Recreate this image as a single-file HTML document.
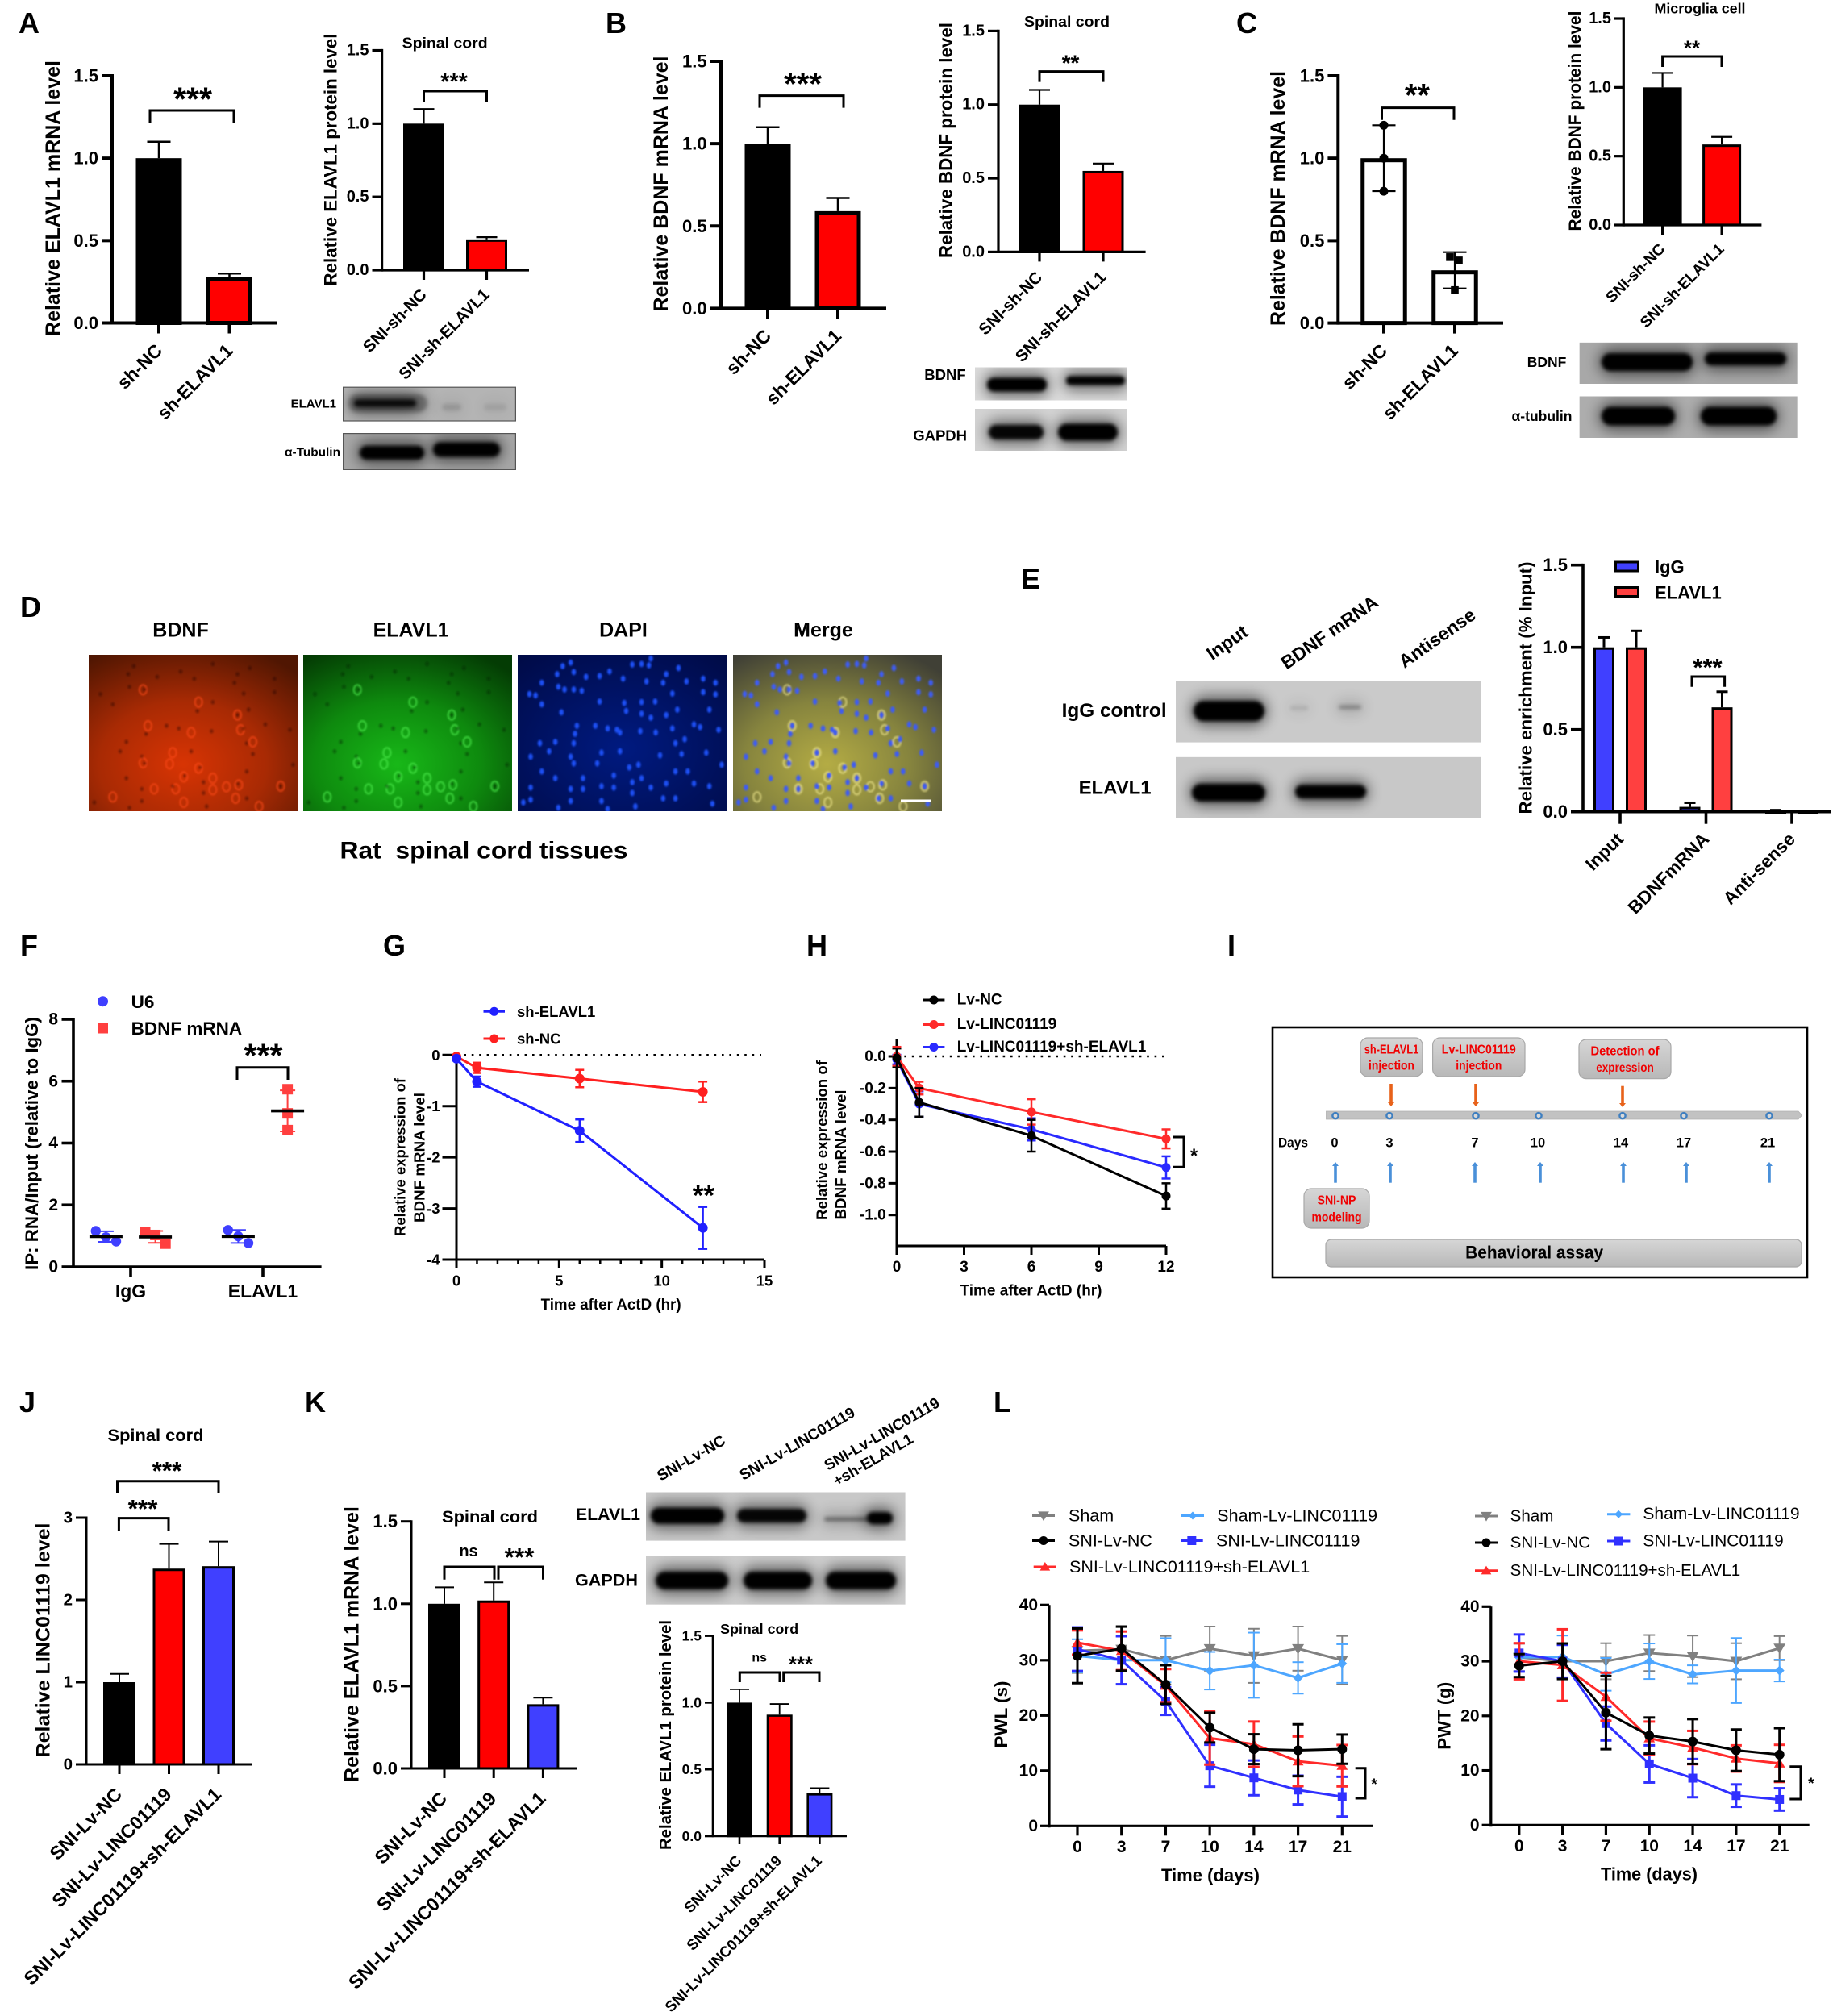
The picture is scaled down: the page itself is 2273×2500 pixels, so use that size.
<!DOCTYPE html>
<html lang="en">
<head>
<meta charset="utf-8">
<title>ELAVL1 / BDNF / LINC01119 multi-panel figure</title>
<style>
  html,body{margin:0;padding:0;background:#fff;}
  #figure{display:block;font-family:"Liberation Sans",Arial,sans-serif;}
</style>
</head>
<body>
<svg id="figure" xmlns="http://www.w3.org/2000/svg" width="2273" height="2500" viewBox="0 0 2273 2500">
  <defs>
    <filter id="blur1" x="-20%" y="-20%" width="140%" height="140%"><feGaussianBlur stdDeviation="1"/></filter>
    <filter id="blur3" x="-50%" y="-150%" width="200%" height="400%"><feGaussianBlur stdDeviation="2.5"/></filter>
    <filter id="blur8" x="-50%" y="-200%" width="200%" height="500%"><feGaussianBlur stdDeviation="8"/></filter>
    <radialGradient id="if-red" cx="0.45" cy="0.7" r="0.8"><stop offset="0" stop-color="#d83404"/><stop offset="0.5" stop-color="#a82a04"/><stop offset="1" stop-color="#501602"/></radialGradient>
    <radialGradient id="if-green" cx="0.45" cy="0.7" r="0.8"><stop offset="0" stop-color="#18b818"/><stop offset="0.5" stop-color="#0e8a0e"/><stop offset="1" stop-color="#043c04"/></radialGradient>
    <radialGradient id="if-blue" cx="0.5" cy="0.6" r="0.8"><stop offset="0" stop-color="#001a80"/><stop offset="1" stop-color="#000a44"/></radialGradient>
    <radialGradient id="if-merge" cx="0.45" cy="0.7" r="0.8"><stop offset="0" stop-color="#b4ac44"/><stop offset="0.5" stop-color="#86843e"/><stop offset="1" stop-color="#404036"/></radialGradient>
    <linearGradient id="pill-fill" x1="0" y1="0" x2="0" y2="1"><stop offset="0" stop-color="#d6d6d6"/><stop offset="1" stop-color="#b8b8b8"/></linearGradient>
  </defs>
</svg>
<script>
/* ---------- chart data ---------- */
const ticksOneFive = ['0.0','0.5','1.0','1.5'];

const aMrnaCategories = ['sh-NC','sh-ELAVL1'];
const aMrnaValues = [1, 0.28];
const aMrnaErrors = [0.1, 0.02];
const aProteinCategories = ['SNI-sh-NC','SNI-sh-ELAVL1'];
const aProteinValues = [1, 0.21];
const aProteinErrors = [0.1, 0.015];

const bMrnaCategories = ['sh-NC','sh-ELAVL1'];
const bMrnaValues = [1, 0.59];
const bMrnaErrors = [0.1, 0.08];
const bProteinCategories = ['SNI-sh-NC','SNI-sh-ELAVL1'];
const bProteinValues = [1, 0.55];
const bProteinErrors = [0.1, 0.05];

const cMrnaCategories = ['sh-NC','sh-ELAVL1'];
const cMrnaValues = [1, 0.32];
const cMrnaErrors = [0.2, 0.11];
const cMrnaPointsNc = [1.2, 1.0, 0.8];
const cMrnaPointsSh = [0.4, 0.38, 0.2];
const cProteinCategories = ['SNI-sh-NC','SNI-sh-ELAVL1'];
const cProteinValues = [1, 0.585];
const cProteinErrors = [0.105, 0.055];

const eCategories = ['Input','BDNFmRNA','Anti-sense'];
const eIgg = [1, 0.03, 0.005];
const eIggErrors = [0.06, 0.025, 0.005];
const eElavl1 = [1, 0.635, 0.003];
const eElavl1Errors = [0.1, 0.095, 0.002];

const fCategories = ['IgG','ELAVL1'];
const fTicks = ['0','2','4','6','8'];
const fU6Replicates = [[1.16,0.96,0.82],[1.19,0.99,0.77]];
const fBdnfReplicates = [[1.12,1.03,0.75],[5.74,4.96,4.42]];

const gHours = [0, 1, 6, 12];
const gYTicks = ['0','-1','-2','-3','-4'];
const gXTicks = ['0','5','10','15'];
const gShElavl1 = [-0.07, -0.52, -1.48, -3.38];
const gShElavl1Err = [0.02, 0.1, 0.22, 0.41];
const gShNc = [-0.03, -0.25, -0.46, -0.72];
const gShNcErr = [0.02, 0.1, 0.17, 0.2];

const hHours = [0, 1, 6, 12];
const hYTicks = ['0.0','-0.2','-0.4','-0.6','-0.8','-1.0'];
const hXTicks = ['0','3','6','9','12'];
const hLvNc = [-0.01, -0.29, -0.5, -0.88];
const hLvNcErr = [0.06, 0.09, 0.1, 0.08];
const hLinc = [0, -0.2, -0.35, -0.52];
const hLincErr = [0.06, 0.04, 0.08, 0.06];
const hLincSh = [-0.02, -0.3, -0.46, -0.7];
const hLincShErr = [0.03, 0.08, 0.07, 0.07];

const jCategories = ['SNI-Lv-NC','SNI-Lv-LINC01119','SNI-Lv-LINC01119+sh-ELAVL1'];
const jTicks = ['0','1','2','3'];
const jValues = [1, 2.38, 2.41];
const jErrors = [0.1, 0.3, 0.3];

const kMrnaCategories = ['SNI-Lv-NC','SNI-Lv-LINC01119','SNI-Lv-LINC01119+sh-ELAVL1'];
const kMrnaValues = [1, 1.02, 0.39];
const kMrnaErrors = [0.1, 0.11, 0.04];
const kProteinCategories = ['SNI-Lv-NC','SNI-Lv-LINC01119','SNI-Lv-LINC01119+sh-ELAVL1'];
const kProteinValues = [1, 0.91, 0.32];
const kProteinErrors = [0.1, 0.08, 0.04];

const lDays = ['0','3','7','10','14','17','21'];
const lYTicks = ['0','10','20','30','40'];

const pwlSham = [31.7, 32, 30, 32.1, 30.8, 32.1, 30];
const pwlShamErr = [4, 4, 4.4, 4, 4.9, 4, 4.4];
const pwlShamLinc = [30.8, 30, 30, 28.1, 29.1, 26.8, 29.4];
const pwlShamLincErr = [3, 4.3, 4, 3.4, 5.9, 2.85, 3.5];
const pwlNc = [30.8, 32.1, 25.6, 17.8, 13.9, 13.7, 13.9];
const pwlNcErr = [4.95, 4, 3.5, 2.7, 2.7, 4.7, 2.65];
const pwlLincSh = [33.2, 31.7, 25.4, 15.9, 14.8, 11.7, 10.9];
const pwlLincShErr = [2.2, 3.5, 3, 4.8, 4.1, 4.5, 3.75];
const pwlLinc = [32, 30, 22.6, 10.9, 8.7, 6.5, 5.3];
const pwlLincErr = [3.95, 4.35, 2.5, 3.8, 3.15, 2.6, 3.6];

const pwtSham = [30.7, 30, 30, 31.5, 30.9, 30, 32.4];
const pwtShamErr = [2.5, 3, 3.3, 3.3, 3.8, 3.3, 2.2];
const pwtShamLinc = [30.7, 30.8, 27.6, 30, 27.6, 28.3, 28.3];
const pwtShamLincErr = [2.6, 3.9, 3, 3.25, 1.65, 5.95, 2];
const pwtNc = [29.2, 30, 20.6, 16.4, 15.3, 13.7, 12.9];
const pwtNcErr = [2.1, 3.25, 6.7, 3.3, 4.1, 3.8, 4.85];
const pwtLincSh = [30, 29.3, 23.5, 15.9, 14.2, 12.2, 11.3];
const pwtLincShErr = [3.3, 6.55, 4.4, 3.05, 3.05, 2.4, 3.4];
const pwtLinc = [31.5, 30, 18.6, 11.2, 8.6, 5.4, 4.7];
const pwtLincErr = [3.4, 3, 3.1, 3.4, 3.5, 2.05, 2.05];

/* ---------- micrograph texture (not chart data) ---------- */
const micrographNuclei = [[912,378],[925,365],[903,408],[930,400],[950,418],[972,415],[988,398],[1025,372],[1040,370],[1052,375],[1100,385],[1055,350],[1080,408],[878,440],[905,455],[915,465],[930,465],[943,470],[858,482],[868,487],[878,520],[972,510],[1010,425],[1048,435],[1075,440],[1113,435],[1140,425],[1160,440],[1140,475],[1160,483],[1090,480],[1012,515],[1040,512],[1062,510],[1015,545],[1040,555],[1098,540],[1150,540],[1080,560],[1055,570],[1125,595],[1135,605],[1090,610],[1063,625],[1038,620],[1000,615],[965,600],[935,600],[932,630],[910,550],[985,610],[1005,625],[1165,615],[1110,650],[1095,665],[875,665],[900,660],[930,665],[890,695],[860,715],[925,715],[975,700],[1005,695],[1070,710],[1105,705],[1145,700],[930,740],[968,740],[1020,755],[1035,745],[1095,770],[1115,770],[1170,745],[878,770],[900,795],[945,795],[995,785],[1040,795],[1025,810],[1055,830],[1080,815],[1125,815],[1150,825],[860,830],[925,835],[945,835],[975,825],[995,830],[1025,850],[1075,870],[1095,870],[860,875],[925,880],[975,880],[1030,900],[1155,890],[905,905],[985,910],[848,885]];
const micrographRings = [[88,130],[178,176],[241,224],[246,279],[266,324],[96,264],[136,364],[88,402],[131,406],[178,422],[201,459],[154,454],[106,499],[141,499],[201,502],[223,491],[243,484],[39,529],[154,549],[238,534],[276,564],[311,489],[166,289]];

/* ---------- helpers ---------- */
const NS = 'http://www.w3.org/2000/svg';
const root = document.getElementById('figure');
let cur = root;

function tag(el, name) {
  
  
  return el;
}
function make(kind, attrs) {
  const el = document.createElementNS(NS, kind);
  for (const k in attrs) el.setAttribute(k, attrs[k]);
  cur.appendChild(el);
  return el;
}
function group(name) {
  const el = document.createElementNS(NS, 'g');
  root.appendChild(el);
  cur = el;
  return tag(el, name);
}
function scale(d0, d1, r0, r1) {
  return function (v) { return r0 + (v - d0) / (d1 - d0) * (r1 - r0); };
}
function label(name, str, x, y, size, o) {
  o = o || {};
  const el = make('text', {x: x, y: y, 'font-size': size, 'font-weight': o.weight || 'bold', 'text-anchor': o.anchor || 'middle', 'dominant-baseline': o.base || 'central', fill: o.fill || '#000'});
  if (o.rotate) el.setAttribute('transform', 'rotate(' + o.rotate + ' ' + x + ' ' + y + ')');
  if (o.len) { el.setAttribute('textLength', o.len); el.setAttribute('lengthAdjust', 'spacingAndGlyphs'); }
  el.textContent = str;
  return tag(el, name);
}
function letter(str, x, y) {
  return label('panel-letter-' + str.toLowerCase(), str, x, y, 36, {anchor: 'start', base: 'auto'});
}
function seg(name, x1, y1, x2, y2, w, color, dash) {
  const el = make('line', {x1: x1, y1: y1, x2: x2, y2: y2, stroke: color || '#000', 'stroke-width': w});
  if (dash) el.setAttribute('stroke-dasharray', dash);
  return tag(el, name);
}
function box(name, x, y, w, h, fill, stroke, sw, rx) {
  const el = make('rect', {x: x, y: y, width: w, height: h, fill: fill});
  if (stroke) { el.setAttribute('stroke', stroke); el.setAttribute('stroke-width', sw); }
  if (rx) el.setAttribute('rx', rx);
  return tag(el, name);
}
function bracket(name, x1, x2, top, bot) {
  const el = make('path', {d: 'M' + x1 + ' ' + bot + 'V' + top + 'H' + x2 + 'V' + bot, fill: 'none', stroke: '#000', 'stroke-width': 3});
  return tag(el, name);
}
function sideBracket(name, x1, x2, y1, y2) {
  const el = make('path', {d: 'M' + x1 + ' ' + y1 + 'H' + x2 + 'V' + y2 + 'H' + x1, fill: 'none', stroke: '#000', 'stroke-width': 3});
  return tag(el, name);
}
function stars(name, str, x, y, size) {
  return label(name, str, x, y + size * 0.14, size);
}
function marker(name, kind, x, y, r, color) {
  let el;
  if (kind === 'circle') el = make('circle', {cx: x, cy: y, r: r, fill: color});
  else if (kind === 'square') el = make('rect', {x: x - r, y: y - r, width: 2 * r, height: 2 * r, fill: color});
  else {
    let p;
    if (kind === 'triUp') p = [[x, y - r * 1.1], [x + r * 1.15, y + r * 0.85], [x - r * 1.15, y + r * 0.85]];
    else if (kind === 'triDown') p = [[x, y + r * 1.1], [x + r * 1.15, y - r * 0.85], [x - r * 1.15, y - r * 0.85]];
    else p = [[x, y - r], [x + r, y], [x, y + r], [x - r, y]];
    el = make('polygon', {points: p.map(function (q) { return q.join(','); }).join(' '), fill: color});
  }
  return tag(el, name);
}
function legendEntry(name, str, x1, x2, y, textX, color, kind, r, size, weight) {
  seg(name + '-swatch-line', x1, y, x2, y, 3, color);
  marker(name + '-swatch-marker', kind, (x1 + x2) / 2, y, r, color);
  label(name + '-label', str, textX, y, size, {anchor: 'start', weight: weight || 'bold'});
}
function ylabel(name, t) {
  label(name, t.text, t.x, t.y, t.size, {rotate: -90, len: t.len});
}

/* ---------- bar chart ---------- */
function barChart(c) {
  group(c.name);
  const y = scale(0, c.max, c.base, c.top);
  const x = function (i) { return c.first + i * c.step; };
  seg('y-axis', c.axisX, c.base + c.axisW / 2, c.axisX, c.top - c.axisW / 2, c.axisW);
  c.ticks.forEach(function (t) {
    seg('y-tick-' + t, c.tickLeft, y(Number(t)), c.axisX, y(Number(t)), c.axisW);
    label('y-tick-label-' + t, t, c.tickLeft - 4, y(Number(t)), c.tickFont, {anchor: 'end'});
  });
  const offsets = c.offsets || [0];
  c.series.forEach(function (s, si) {
    s.values.forEach(function (v, i) {
      const cx = x(i) + offsets[si];
      const e = s.errors[i];
      const ev = c.errColor || '#000';
      if (!c.twoSided) {
        seg('error-stem-' + s.name + '-' + i, cx, y(v), cx, y(v + e), c.errW, ev);
        seg('error-cap-' + s.name + '-' + i, cx - c.cap, y(v + e), cx + c.cap, y(v + e), c.errW, ev);
      }
      const fill = s.fills[i % s.fills.length];
      const top = y(v);
      const h = Math.max(c.base - top - c.border / 2, 0.5);
      const bar = box('bar-' + s.name + '-' + i, cx - c.barW / 2 + c.border / 2, top + c.border / 2, c.barW - c.border, h, fill, '#000', c.border);
      bar.setAttribute('data-value', v);
    });
  });
  seg('x-axis', c.axisX, c.base, c.xEnd, c.base, c.axisW);
  c.categories.forEach(function (cat, i) {
    seg('x-tick-' + i, x(i), c.base, x(i), c.base + c.tickLen, c.axisW);
    label('x-tick-label-' + i, cat, x(i) + (c.catDx || 0), c.base + c.catDy, c.catFont, {anchor: 'end', rotate: -45});
  });
  if (c.yTitle) ylabel('y-axis-title', c.yTitle);
  return {x: x, y: y};
}
const bigBars = {axisW: 4, border: 5, errW: 2.5, cap: 14.5, tickLen: 13, catFont: 23, catDy: 30, tickFont: 22};
const smallBars = {axisW: 3.2, border: 3, errW: 2.2, cap: 13, tickLen: 12, catFont: 20.5, catDy: 27, tickFont: 20};
const blackRed = ['#000', '#f00'];
const blackRedBlue = ['#000', '#f00', '#4040ff'];

/* ---------- line chart ---------- */
function lineChart(c) {
  group(c.name);
  const x = c.x, y = c.y;
  const nudge = c.labelNudge || 0;
  seg('y-axis', c.axisX, c.axisBase + 2, c.axisX, c.axisTop, c.axisW);
  seg('x-axis', c.axisX, c.axisBase, c.axisEnd, c.axisBase, c.axisW);
  c.yTicks.forEach(function (t) {
    seg('y-tick-' + t, c.tickLeft, y(Number(t)), c.axisX, y(Number(t)), c.axisW);
    label('y-tick-label-' + t, t, c.tickLeft - 3, y(Number(t)) + nudge, c.tickFont, {anchor: 'end'});
  });
  (c.minor || []).forEach(function (m) {
    seg('x-minor-tick-' + m, x(m), c.axisBase, x(m), c.axisBase + 6, 2.5);
  });
  c.xTickValues.forEach(function (v, i) {
    seg('x-tick-' + i, x(v), c.axisBase, x(v), c.axisBase + c.tickLen, c.axisW);
    label('x-tick-label-' + i, c.xTicks[i], x(v), c.axisBase + c.xLabelDy + nudge, c.tickFont);
  });
  if (c.zeroTo) seg('zero-reference-line', c.axisX, y(0), c.zeroTo, y(0), 2.6, '#000', '2.6 6.8');
  c.series.forEach(function (s) {
    s.errs.forEach(function (e, i) {
      const px = x(c.points[i]);
      seg(s.name + '-error-stem-' + i, px, y(s.vals[i] + e), px, y(s.vals[i] - e), s.errW, s.color);
      seg(s.name + '-error-cap-high-' + i, px - c.cap, y(s.vals[i] + e), px + c.cap, y(s.vals[i] + e), s.errW, s.color);
      seg(s.name + '-error-cap-low-' + i, px - c.cap, y(s.vals[i] - e), px + c.cap, y(s.vals[i] - e), s.errW, s.color);
    });
    const poly = make('polyline', {points: s.vals.map(function (v, i) { return x(c.points[i]) + ',' + y(v); }).join(' '), fill: 'none', stroke: s.color, 'stroke-width': s.lineW});
    tag(poly, s.name + '-line');
    s.vals.forEach(function (v, i) {
      marker(s.name + '-point-' + i, s.kind, x(c.points[i]), y(v), s.r, s.color);
    });
  });
}

/* ---------- western blot ---------- */
function blot(name, x, y, w, h, bg, bands, edge) {
  const el = make('svg', {x: x, y: y, width: w, height: h, viewBox: x + ' ' + y + ' ' + w + ' ' + h});
  tag(el, name);
  const saved = cur;
  cur = el;
  box(name + '-background', x, y, w, h, bg);
  bands.forEach(function (b, i) {
    const op = b[4] === undefined ? 1 : b[4];
    const thick = op > 0.5 ? b[3] + 5 : b[3];
    const halo = box(name + '-band-halo-' + i, b[0] - 4, b[1] - thick / 2 - 7, b[2] - b[0] + 8, thick + 14, '#000', null, 0, (thick + 14) / 2);
    halo.setAttribute('opacity', op * 0.5);
    halo.setAttribute('filter', 'url(#blur8)');
    const band = box(name + '-band-' + i, b[0], b[1] - thick / 2, b[2] - b[0], thick, '#000', null, 0, thick / 2);
    band.setAttribute('opacity', op);
    band.setAttribute('filter', 'url(#blur3)');
  });
  if (edge) {
    box(name + '-frame', x + 0.5, y + 0.5, w - 1, h - 1, 'none', '#555', 1.4);
  }
  cur = saved;
}

/* ---------- micrograph panel ---------- */
function micrograph(name, x, y, w, h, grad, nucleusColor, nucleusOpacity, ringColor) {
  const el = make('svg', {x: x, y: y, width: w, height: h, viewBox: x + ' ' + y + ' ' + w + ' ' + h});
  tag(el, name);
  const saved = cur;
  cur = el;
  box(name + '-background', x, y, w, h, 'url(#' + grad + ')');
  const dots = make('g', {filter: 'url(#blur1)'});
  tag(dots, name + '-cells');
  cur = dots;
  if (ringColor) {
    micrographRings.forEach(function (r, i) {
      const ring = make('ellipse', {cx: x + r[0] / 339 * w, cy: y + r[1] / 582 * h, rx: 4.5, ry: 6, fill: 'none', stroke: ringColor, 'stroke-width': 1.7, opacity: 0.8});
      tag(ring, name + '-ring-cell-' + i);
    });
  }
  micrographNuclei.forEach(function (n, i) {
    if (nucleusOpacity < 0.6 && i % 2) return;
    const dot = make('ellipse', {cx: x + (n[0] - 839) / 339 * w, cy: y + (n[1] - 336) / 582 * h, rx: nucleusOpacity < 0.6 ? 2.2 : 2.8, ry: nucleusOpacity < 0.6 ? 2.6 : 3.9, fill: nucleusColor, opacity: nucleusOpacity});
    tag(dot, name + '-nucleus-' + i);
  });
  cur = saved;
}

/* ================= PANEL LETTERS ================= */
group('panel-letters');
letter('A', 23, 41); letter('B', 751, 41); letter('C', 1533, 41);
letter('D', 25, 765); letter('E', 1266, 730);
letter('F', 25, 1185); letter('G', 475, 1185); letter('H', 1000, 1185); letter('I', 1522, 1185);
letter('J', 24, 1751); letter('K', 378, 1751); letter('L', 1232, 1751);

/* ================= PANEL A ================= */
barChart(Object.assign({}, bigBars, {name: 'a-mrna-chart', axisX: 139, base: 400.5, top: 94, max: 1.5, ticks: ticksOneFive, tickLeft: 126, xEnd: 344, first: 197, step: 87.5, barW: 57, categories: aMrnaCategories,
  series: [{name: 'elavl1-mrna', values: aMrnaValues, errors: aMrnaErrors, fills: blackRed}],
  yTitle: {text: 'Relative ELAVL1 mRNA level', x: 66, y: 246, size: 25, len: 342}}));
bracket('significance-bracket', 186, 290, 137, 152);
stars('significance-stars', '***', 239, 117, 41);

barChart(Object.assign({}, smallBars, {name: 'a-protein-chart', axisX: 473.6, base: 335, top: 62.5, max: 1.5, ticks: ticksOneFive, tickLeft: 461.5, xEnd: 656, first: 525.5, step: 78, barW: 51, categories: aProteinCategories,
  series: [{name: 'elavl1-protein', values: aProteinValues, errors: aProteinErrors, fills: blackRed}],
  yTitle: {text: 'Relative ELAVL1 protein level', x: 410, y: 198, size: 22.2, len: 313}}));
label('chart-title', 'Spinal cord', 551.6, 53, 18.5, {len: 106});
bracket('significance-bracket', 525.5, 603.5, 113, 126);
stars('significance-stars', '***', 563, 98, 29);

group('a-western-blot');
blot('a-elavl1-blot', 425, 479.6, 215, 43, '#b4b4b4', [[432, 500, 530, 22, 0.28], [439, 500, 516, 4, 0.85], [548, 505, 572, 8, 0.12], [600, 505, 628, 8, 0.08]], true);
blot('a-tubulin-blot', 425, 537, 215, 46, '#a6a6a6', [[446, 561.5, 526, 12], [537, 557.5, 620, 13]], true);
label('a-elavl1-blot-label', 'ELAVL1', 417, 501, 15, {anchor: 'end'});
label('a-tubulin-blot-label', 'α-Tubulin', 422, 561, 15, {anchor: 'end', len: 69});

/* ================= PANEL B ================= */
barChart(Object.assign({}, bigBars, {name: 'b-mrna-chart', axisX: 894, base: 382.4, top: 76, max: 1.5, ticks: ticksOneFive, tickLeft: 880.6, xEnd: 1099, first: 952, step: 87, barW: 57, categories: bMrnaCategories,
  series: [{name: 'bdnf-mrna', values: bMrnaValues, errors: bMrnaErrors, fills: blackRed}],
  yTitle: {text: 'Relative BDNF mRNA level', x: 820, y: 228, size: 25, len: 317}}));
bracket('significance-bracket', 942, 1046, 118.6, 133.6);
stars('significance-stars', '***', 995.5, 99, 40);

barChart(Object.assign({}, smallBars, {name: 'b-protein-chart', axisX: 1238, base: 312.4, top: 38.4, max: 1.5, ticks: ticksOneFive, tickLeft: 1225, xEnd: 1420.6, first: 1289, step: 79, barW: 51, categories: bProteinCategories, catDy: 28,
  series: [{name: 'bdnf-protein', values: bProteinValues, errors: bProteinErrors, fills: blackRed}],
  yTitle: {text: 'Relative BDNF protein level', x: 1173, y: 174, size: 22.4, len: 292}}));
label('chart-title', 'Spinal cord', 1323, 26.5, 18.5, {len: 106});
bracket('significance-bracket', 1289, 1368, 88.6, 101.6);
stars('significance-stars', '**', 1327.5, 74, 28);

group('b-western-blot');
blot('b-bdnf-blot', 1209, 455.5, 188, 41, '#dadada', [[1224, 477, 1298, 12], [1322, 472, 1395, 6]]);
blot('b-gapdh-blot', 1209, 507, 188, 52, '#d2d2d2', [[1226, 536, 1294, 13, 0.95], [1312, 536, 1386, 16]]);
label('b-bdnf-blot-label', 'BDNF', 1172, 464.6, 18.5);
label('b-gapdh-blot-label', 'GAPDH', 1165.6, 540, 18.5);

/* ================= PANEL C ================= */
const cMrnaAxes = barChart(Object.assign({}, bigBars, {name: 'c-mrna-chart', axisX: 1659.3, base: 400.6, top: 94, max: 1.5, ticks: ticksOneFive, tickLeft: 1646.4, xEnd: 1864, first: 1716, step: 88, barW: 57.5, categories: cMrnaCategories, twoSided: true,
  series: [{name: 'bdnf-mrna', values: cMrnaValues, errors: cMrnaErrors, fills: ['#fff', '#fff']}],
  yTitle: {text: 'Relative BDNF mRNA level', x: 1584.8, y: 246, size: 25, len: 316}}));
cMrnaValues.forEach(function (v, i) {
  const cx = cMrnaAxes.x(i), e = cMrnaErrors[i];
  seg('sd-stem-' + i, cx, cMrnaAxes.y(v + e), cx, cMrnaAxes.y(v - e), 2.2);
  seg('sd-cap-high-' + i, cx - 14.5, cMrnaAxes.y(v + e), cx + 14.5, cMrnaAxes.y(v + e), 2.2);
  seg('sd-cap-low-' + i, cx - 14.5, cMrnaAxes.y(v - e), cx + 14.5, cMrnaAxes.y(v - e), 2.2);
});
cMrnaPointsNc.forEach(function (v, i) {
  marker('replicate-point-nc-' + i, 'circle', cMrnaAxes.x(0), cMrnaAxes.y(v), 5.5, '#000');
});
cMrnaPointsSh.forEach(function (v, i) {
  marker('replicate-point-sh-' + i, 'square', cMrnaAxes.x(1) + [-6, 5, 0][i], cMrnaAxes.y(v), 4.8, '#000');
});
bracket('significance-bracket', 1713.5, 1803, 133.6, 148.7);
stars('significance-stars', '**', 1757.4, 112.7, 40);

barChart(Object.assign({}, smallBars, {name: 'c-protein-chart', axisX: 2013.3, base: 279, top: 23, max: 1.5, ticks: ticksOneFive, tickLeft: 2002, xEnd: 2184.4, first: 2061.6, step: 73.5, barW: 48, categories: cProteinCategories, catFont: 19, catDy: 27,
  series: [{name: 'bdnf-protein', values: cProteinValues, errors: cProteinErrors, fills: blackRed}],
  yTitle: {text: 'Relative BDNF protein level', x: 1953.6, y: 150, size: 21, len: 273}}));
label('chart-title', 'Microglia cell', 2108, 10.7, 17.5, {len: 113});
bracket('significance-bracket', 2061.6, 2135, 70, 83);
stars('significance-stars', '**', 2098, 56, 26);

group('c-western-blot');
blot('c-bdnf-blot', 1958.6, 424.7, 270.2, 51.3, '#a8a8a8', [[1986, 449, 2099, 17], [2114, 445, 2215, 11]]);
blot('c-tubulin-blot', 1958.6, 491.5, 270.2, 51.5, '#adadad', [[1986, 516, 2077, 18], [2109, 516, 2203, 18]]);
label('c-bdnf-blot-label', 'BDNF', 1918, 449, 17.5);
label('c-tubulin-blot-label', 'α-tubulin', 1912, 516, 17.5, {len: 75});

/* ================= PANEL D ================= */
group('d-immunofluorescence');
micrograph('d-bdnf-image', 110, 812, 259.5, 194, 'if-red', '#1a0600', 0.4, '#ff4a1c');
micrograph('d-elavl1-image', 376, 812, 259, 194, 'if-green', '#001800', 0.4, '#50f050');
micrograph('d-dapi-image', 642, 812, 259, 194, 'if-blue', '#1c50f4', 1, null);
micrograph('d-merge-image', 909, 812, 259, 194, 'if-merge', '#3c5cf4', 1, '#f4ec90');
seg('d-scale-bar', 1117, 993, 1154, 993, 3, '#fff');
label('d-bdnf-title', 'BDNF', 224, 781.7, 25);
label('d-elavl1-title', 'ELAVL1', 509.6, 781.7, 25);
label('d-dapi-title', 'DAPI', 773, 781.7, 25);
label('d-merge-title', 'Merge', 1021, 781.7, 25);
label('d-caption', 'Rat\u00a0 spinal cord tissues', 600, 1055, 30, {len: 357});

/* ================= PANEL E ================= */
group('e-rip-blot');
blot('e-igg-blot', 1458, 844.7, 378, 76, '#cacaca', [[1480, 881.7, 1568, 20], [1600, 878, 1622, 4, 0.12], [1660, 877, 1688, 5, 0.28]]);
blot('e-elavl1-blot', 1458, 938.7, 378, 75.3, '#c8c8c8', [[1478, 983, 1569, 17], [1606, 981.7, 1694, 12]]);
label('e-igg-row-label', 'IgG control', 1381.6, 881.7, 24.4, {len: 130});
label('e-elavl1-row-label', 'ELAVL1', 1382.6, 976.7, 23.5, {len: 90});
label('e-input-lane-label', 'Input', 1521.6, 796.7, 23, {rotate: -35});
label('e-bdnf-lane-label', 'BDNF mRNA', 1648.5, 784, 23, {rotate: -35});
label('e-antisense-lane-label', 'Antisense', 1782, 791, 23, {rotate: -35});

barChart({name: 'e-enrichment-chart', axisX: 1963, base: 1006.7, top: 700.7, max: 1.5, ticks: ticksOneFive, tickLeft: 1948, tickFont: 22, xEnd: 2271, first: 2009, step: 106.5, barW: 26, offsets: [-20, 20], categories: eCategories,
  axisW: 3.6, border: 3, errW: 3, cap: 7, tickLen: 15, catFont: 22.5, catDy: 30, catDx: 0,
  series: [{name: 'igg', values: eIgg, errors: eIggErrors, fills: ['#4040ff']}, {name: 'elavl1', values: eElavl1, errors: eElavl1Errors, fills: ['#ff4040']}],
  yTitle: {text: 'Relative enrichment (% Input)', x: 1892, y: 853, size: 22, len: 313}});
bracket('significance-bracket', 2098, 2138.6, 839, 851.7);
stars('significance-stars', '***', 2117.5, 823, 31);
box('legend-igg-swatch', 2003.5, 697, 28, 11, '#4040ff', '#000', 3);
label('legend-igg-label', 'IgG', 2052, 703, 22, {anchor: 'start'});
box('legend-elavl1-swatch', 2003.5, 728.5, 28, 11, '#ff4040', '#000', 3);
label('legend-elavl1-label', 'ELAVL1', 2052, 735, 22, {anchor: 'start'});

/* ================= PANEL F ================= */
(function () {
  group('f-rip-scatter-chart');
  const y = scale(0, 8, 1571, 1264);
  const x = scale(0, 1, 162, 326);
  seg('y-axis', 91, 1573, 91, 1262, 3.6);
  fTicks.forEach(function (t) {
    seg('y-tick-' + t, 76.5, y(Number(t)), 91, y(Number(t)), 3.6);
    label('y-tick-label-' + t, t, 72, y(Number(t)), 21, {anchor: 'end'});
  });
  seg('x-axis', 91, 1571, 398.6, 1571, 3.6);
  fCategories.forEach(function (cat, i) {
    seg('x-tick-' + i, x(i), 1571, x(i), 1584, 3.6);
    label('x-tick-label-' + i, cat, x(i), 1601, 23);
  });
  function plot(series, reps, offset, kind, color) {
    reps.forEach(function (r, i) {
      const cx = x(i) + offset;
      const mean = r.reduce(function (a, b) { return a + b; }, 0) / r.length;
      const sd = Math.sqrt(r.reduce(function (a, b) { return a + (b - mean) * (b - mean); }, 0) / (r.length - 1));
      const spread = mean > 3 ? [0, 0, 0] : [-12.6, 0, 12.6];
      r.forEach(function (v, j) {
        marker(series + '-replicate-' + i + '-' + j, kind, cx + spread[j], y(v), kind === 'circle' ? 6.2 : 6.5, color);
      });
      seg(series + '-sd-stem-' + i, cx, y(mean + sd), cx, y(mean - sd), 2, color);
      seg(series + '-sd-cap-high-' + i, cx - 9.5, y(mean + sd), cx + 9.5, y(mean + sd), 2, color);
      seg(series + '-sd-cap-low-' + i, cx - 9.5, y(mean - sd), cx + 9.5, y(mean - sd), 2, color);
      seg(series + '-mean-line-' + i, cx - 20.5, y(mean), cx + 20.5, y(mean), 3.6);
    });
  }
  plot('u6', fU6Replicates, -30.6, 'circle', '#3f3fff');
  plot('bdnf-mrna', fBdnfReplicates, 30.6, 'square', '#ff3f3f');
  marker('legend-u6-marker', 'circle', 127.5, 1241.7, 6.5, '#3f3fff');
  label('legend-u6-label', 'U6', 162.6, 1242.5, 22.5, {anchor: 'start'});
  marker('legend-bdnf-marker', 'square', 127.5, 1275, 6.5, '#ff3f3f');
  label('legend-bdnf-label', 'BDNF mRNA', 162.6, 1275.5, 22.5, {anchor: 'start'});
  bracket('significance-bracket', 294, 357, 1323.7, 1339);
  stars('significance-stars', '***', 326.5, 1303, 41);
  ylabel('y-axis-title', {text: 'IP: RNA/Input (relative to IgG)', x: 39.5, y: 1418, size: 22, len: 314});
})();

/* ================= PANEL G ================= */
lineChart({name: 'g-stability-chart', x: scale(0, 15, 566, 948), y: scale(0, -4, 1308.3, 1562), axisX: 566, axisTop: 1308.3, axisBase: 1562, axisEnd: 948, axisW: 3, tickLeft: 548.5, tickFont: 18.5, tickLen: 11, xLabelDy: 26, cap: 5.5, zeroTo: 944,
  yTicks: gYTicks, xTicks: gXTicks, xTickValues: gXTicks.map(Number), minor: [1, 2, 3, 4, 6, 7, 8, 9, 11, 12, 13, 14], points: gHours,
  series: [
    {name: 'sh-nc', color: '#ff2020', kind: 'circle', r: 6, lineW: 3, errW: 2.5, vals: gShNc, errs: gShNcErr},
    {name: 'sh-elavl1', color: '#2020ff', kind: 'circle', r: 6, lineW: 3, errW: 2.5, vals: gShElavl1, errs: gShElavl1Err}
  ]});
legendEntry('legend-sh-elavl1', 'sh-ELAVL1', 599.5, 626, 1254.3, 641, '#2020ff', 'circle', 5.5, 18.5);
legendEntry('legend-sh-nc', 'sh-NC', 599.5, 626, 1288, 641, '#ff2020', 'circle', 5.5, 18.5);
stars('significance-stars', '**', 872.4, 1478, 35);
label('y-axis-title-line-1', 'Relative expression of', 496, 1435, 18.5, {rotate: -90, len: 196});
label('y-axis-title-line-2', 'BDNF mRNA level', 520, 1435.5, 18.5, {rotate: -90, len: 161});
label('x-axis-title', 'Time after ActD (hr)', 757.6, 1618.5, 19, {len: 174});

/* ================= PANEL H ================= */
lineChart({name: 'h-stability-chart', x: scale(0, 12, 1112, 1446), y: scale(0, -1, 1310, 1506.7), axisX: 1112, axisTop: 1289, axisBase: 1545, axisEnd: 1446, axisW: 3, tickLeft: 1101.7, tickFont: 19, tickLen: 11, xLabelDy: 26, cap: 5.5, zeroTo: 1445, labelNudge: 0.5,
  yTicks: hYTicks, xTicks: hXTicks, xTickValues: hXTicks.map(Number), points: hHours,
  series: [
    {name: 'lv-linc01119-sh-elavl1', color: '#2a2aff', kind: 'circle', r: 5.5, lineW: 3, errW: 2.5, vals: hLincSh, errs: hLincShErr},
    {name: 'lv-linc01119', color: '#ff2a2a', kind: 'circle', r: 5.5, lineW: 3, errW: 2.5, vals: hLinc, errs: hLincErr},
    {name: 'lv-nc', color: '#000', kind: 'circle', r: 5.5, lineW: 3, errW: 2.5, vals: hLvNc, errs: hLvNcErr}
  ]});
legendEntry('legend-lv-nc', 'Lv-NC', 1144.6, 1171.4, 1240, 1186.7, '#000', 'circle', 5.5, 19);
legendEntry('legend-lv-linc01119', 'Lv-LINC01119', 1144.6, 1171.4, 1270.5, 1186.7, '#ff2a2a', 'circle', 5.5, 19);
legendEntry('legend-lv-linc01119-sh-elavl1', 'Lv-LINC01119+sh-ELAVL1', 1144.6, 1171.4, 1298.5, 1186.7, '#2a2aff', 'circle', 5.5, 19);
sideBracket('significance-bracket', 1454.5, 1468, 1410, 1447.3);
stars('significance-star', '*', 1480.6, 1430, 24);
label('y-axis-title-line-1', 'Relative expression of', 1019, 1414, 18.5, {rotate: -90, len: 198});
label('y-axis-title-line-2', 'BDNF mRNA level', 1042.4, 1432, 18.5, {rotate: -90, len: 161});
label('x-axis-title', 'Time after ActD (hr)', 1278.5, 1601, 19, {len: 176});

/* ================= PANEL I ================= */
(function () {
  group('i-timeline-diagram');
  box('timeline-frame', 1578, 1274, 663, 310, '#fff', '#000', 2.6);
  const pill = function (name, x, y, w, h, l1, len1, l2, len2) {
    box(name + '-box', x, y, w, h, 'url(#pill-fill)', '#a8a8a8', 1.2, 9);
    label(name + '-line-1', l1, x + w / 2, y + h * 0.31, 16, {fill: '#f00001', len: len1});
    label(name + '-line-2', l2, x + w / 2, y + h * 0.73, 16, {fill: '#f00001', len: len2});
  };
  pill('sh-elavl1-injection', 1687, 1287, 77, 48, 'sh-ELAVL1', 67.5, 'injection', 57);
  pill('lv-linc01119-injection', 1776.6, 1287, 114.4, 48, 'Lv-LINC01119', 92, 'injection', 57);
  pill('detection-of-expression', 1958, 1289, 114, 48.7, 'Detection of', 85, 'expression', 71.5);
  pill('sni-np-modeling', 1617, 1474, 81, 49, 'SNI-NP', 48, 'modeling', 62);
  box('behavioral-assay-box', 1644, 1537, 590, 34, 'url(#pill-fill)', '#a8a8a8', 1.2, 7);
  label('behavioral-assay-label', 'Behavioral assay', 1902.6, 1553, 22, {len: 171});
  const bar = make('polygon', {points: '1644.5,1378 2230,1378 2234.7,1383 2230,1388 1644.5,1388', fill: '#c2c2c2', stroke: '#b0b0b0', 'stroke-width': 0.8});
  tag(bar, 'timeline-bar');
  [1656, 1723, 1830, 1908, 2012, 2088, 2194].forEach(function (x, i) {
    const ring = make('circle', {cx: x, cy: 1383.7, r: 3.6, fill: '#d8d8d8', stroke: '#3f7fc0', 'stroke-width': 2.4});
    tag(ring, 'timeline-day-dot-' + i);
  });
  label('days-label', 'Days', 1585, 1417.7, 16.5, {anchor: 'start', len: 37});
  [[1655, '0'], [1723, '3'], [1829, '7'], [1907, '10'], [2010, '14'], [2088, '17'], [2192, '21']].forEach(function (d) {
    label('day-label-' + d[1], d[1], d[0], 1417.7, 16.5);
  });
  const arrow = function (name, x, y1, y2, color) {
    seg(name + '-shaft', x, y1, x, y2, 3.6, color);
    const dir = y2 > y1 ? 1 : -1;
    const head = make('polygon', {points: (x - 4) + ',' + y2 + ' ' + (x + 4) + ',' + y2 + ' ' + x + ',' + (y2 + dir * 5), fill: color});
    tag(head, name + '-head');
  };
  arrow('orange-arrow-day-3', 1725, 1344, 1367, '#e8621a');
  arrow('orange-arrow-day-7', 1830, 1344, 1367, '#e8621a');
  arrow('orange-arrow-day-14', 2012, 1346.7, 1368, '#e8621a');
  [1656, 1724, 1829, 1910, 2013, 2091, 2194].forEach(function (x, i) {
    arrow('blue-arrow-' + i, x, 1466.7, 1446, '#4a90d9');
  });
})();

/* ================= PANEL J ================= */
barChart({name: 'j-linc01119-chart', axisX: 107, base: 2188, top: 1882, max: 3, ticks: jTicks, tickLeft: 94, tickFont: 20.5, xEnd: 312, first: 148, step: 61.5, barW: 40, categories: jCategories,
  axisW: 3, border: 3, errW: 2, cap: 12, tickLen: 12, catFont: 23.3, catDy: 33, catDx: -1,
  series: [{name: 'linc01119', values: jValues, errors: jErrors, fills: blackRedBlue}],
  yTitle: {text: 'Relative LINC01119 level', x: 54, y: 2034, size: 24.2, len: 291}});
label('chart-title', 'Spinal cord', 193, 1780, 21.5, {len: 119});
bracket('significance-bracket-lower', 147.4, 209, 1882.6, 1898);
stars('significance-stars-lower', '***', 177, 1866, 31.5);
bracket('significance-bracket-upper', 145.5, 271, 1836.7, 1851.5);
stars('significance-stars-upper', '***', 207, 1819, 31.5);

/* ================= PANEL K ================= */
barChart({name: 'k-mrna-chart', axisX: 510, base: 2193, top: 1886.7, max: 1.5, ticks: ticksOneFive, tickLeft: 497, tickFont: 22, xEnd: 715, first: 551, step: 61.2, barW: 40, categories: kMrnaCategories,
  axisW: 3, border: 3, errW: 2, cap: 12, tickLen: 12, catFont: 23.3, catDy: 33, catDx: -1,
  series: [{name: 'elavl1-mrna', values: kMrnaValues, errors: kMrnaErrors, fills: blackRedBlue}],
  yTitle: {text: 'Relative ELAVL1 mRNA level', x: 437, y: 2039, size: 24.8, len: 342}});
label('chart-title', 'Spinal cord', 607.5, 1881, 21.5, {len: 119});
bracket('significance-bracket-ns', 551, 613, 1943, 1958.7);
label('significance-ns', 'ns', 581, 1924, 20, {weight: 'bold'});
bracket('significance-bracket', 618, 673.5, 1943, 1958.7);
stars('significance-stars', '***', 644, 1926, 31.5);

group('k-western-blot');
blot('k-elavl1-blot', 801, 1850.5, 321.7, 60.2, '#c8c8c8', [[807, 1879.6, 898, 15], [914, 1879.6, 1000, 12, 0.95], [1022, 1884, 1078, 5, 0.4], [1075, 1882.6, 1107, 10]]);
blot('k-gapdh-blot', 801, 1929.6, 321.7, 60.2, '#cccccc', [[813, 1960, 903, 17], [922, 1960, 1007, 17], [1024, 1960, 1111, 17]]);
label('k-elavl1-blot-label', 'ELAVL1', 754, 1878.6, 21, {len: 80});
label('k-gapdh-blot-label', 'GAPDH', 752, 1960, 21, {len: 78});
label('k-lane-label-1', 'SNI-Lv-NC', 857.5, 1808.8, 19, {rotate: -30});
label('k-lane-label-2', 'SNI-Lv-LINC01119', 989, 1791, 19, {rotate: -30});
label('k-lane-label-3-line-1', 'SNI-Lv-LINC01119', 1094, 1779, 19, {rotate: -30});
label('k-lane-label-3-line-2', '+sh-ELAVL1', 1083, 1811, 19, {rotate: -30});

barChart({name: 'k-protein-chart', axisX: 884, base: 2277, top: 2028.6, max: 1.5, ticks: ticksOneFive, tickLeft: 874, tickFont: 17.5, xEnd: 1050, first: 917, step: 49.7, barW: 32, categories: kProteinCategories,
  axisW: 2.6, border: 2.6, errW: 1.8, cap: 12, tickLen: 10, catFont: 18.5, catDy: 27, catDx: -1,
  series: [{name: 'elavl1-protein', values: kProteinValues, errors: kProteinErrors, fills: blackRedBlue}],
  yTitle: {text: 'Relative ELAVL1 protein level', x: 826, y: 2151.5, size: 20.2, len: 285}});
label('chart-title', 'Spinal cord', 941.7, 2020, 17.5, {len: 97});
bracket('significance-bracket-ns', 917.3, 967, 2074, 2086);
label('significance-ns', 'ns', 941.7, 2056, 16);
bracket('significance-bracket', 971.7, 1016, 2074, 2086);
stars('significance-stars', '***', 993, 2060.7, 25.7);

/* ================= PANEL L ================= */
const colorSham = '#808080', colorShamLinc = '#4da6ff', colorNc = '#000', colorLincSh = '#ff2a2a', colorLinc = '#3030ff';
function behaviourSeries(sham, shamE, shamL, shamLE, linc, lincE, lincS, lincSE, nc, ncE) {
  return [
    {name: 'sham', color: colorSham, kind: 'triDown', r: 6.5, lineW: 3, errW: 2, vals: sham, errs: shamE},
    {name: 'sham-lv-linc01119', color: colorShamLinc, kind: 'diamond', r: 6, lineW: 3, errW: 2, vals: shamL, errs: shamLE},
    {name: 'sni-lv-linc01119', color: colorLinc, kind: 'square', r: 5.5, lineW: 3, errW: 3, vals: linc, errs: lincE},
    {name: 'sni-lv-linc01119-sh-elavl1', color: colorLincSh, kind: 'triUp', r: 6, lineW: 3, errW: 3, vals: lincS, errs: lincSE},
    {name: 'sni-lv-nc', color: colorNc, kind: 'circle', r: 6, lineW: 3, errW: 3, vals: nc, errs: ncE}
  ];
}
lineChart({name: 'l-pwl-chart', x: scale(0, 6, 1336, 1664.3), y: scale(0, 40, 2264.3, 1990.3), axisX: 1301, axisTop: 1990.3, axisBase: 2264.3, axisEnd: 1702, axisW: 3.2, tickLeft: 1290, tickFont: 21, tickLen: 12, xLabelDy: 26.4, cap: 7,
  yTicks: lYTicks, xTicks: lDays, xTickValues: lDays.map(function (d, i) { return i; }), points: lDays.map(function (d, i) { return i; }),
  series: behaviourSeries(pwlSham, pwlShamErr, pwlShamLinc, pwlShamLincErr, pwlLinc, pwlLincErr, pwlLincSh, pwlLincShErr, pwlNc, pwlNcErr)});
legendEntry('legend-sham', 'Sham', 1280, 1308, 1879.5, 1325, colorSham, 'triDown', 6, 21.5, 'normal');
legendEntry('legend-sni-lv-nc', 'SNI-Lv-NC', 1280, 1308, 1910.5, 1325, colorNc, 'circle', 5.5, 21.5, 'normal');
legendEntry('legend-sni-lv-linc01119-sh-elavl1', 'SNI-Lv-LINC01119+sh-ELAVL1', 1281.7, 1310, 1943, 1326, colorLincSh, 'triUp', 5.5, 21.5, 'normal');
legendEntry('legend-sham-lv-linc01119', 'Sham-Lv-LINC01119', 1465, 1493, 1879.5, 1509.3, colorShamLinc, 'diamond', 5, 21.5, 'normal');
legendEntry('legend-sni-lv-linc01119', 'SNI-Lv-LINC01119', 1464, 1491.7, 1910.5, 1508, colorLinc, 'square', 5.5, 21.5, 'normal');
sideBracket('significance-bracket', 1680.7, 1693, 2192.7, 2230);
stars('significance-star', '*', 1704, 2211, 19);
ylabel('y-axis-title', {text: 'PWL (s)', x: 1241.7, y: 2126, size: 22.3, len: 83});
label('x-axis-title', 'Time (days)', 1501, 2325.7, 22, {len: 122});

lineChart({name: 'l-pwt-chart', x: scale(0, 6, 1883.8, 2206.7), y: scale(0, 40, 2263.3, 1992.3), axisX: 1848.8, axisTop: 1992.3, axisBase: 2263.3, axisEnd: 2243.7, axisW: 3.2, tickLeft: 1837.6, tickFont: 21, tickLen: 12, xLabelDy: 26, cap: 7,
  yTicks: lYTicks, xTicks: lDays, xTickValues: lDays.map(function (d, i) { return i; }), points: lDays.map(function (d, i) { return i; }),
  series: behaviourSeries(pwtSham, pwtShamErr, pwtShamLinc, pwtShamLincErr, pwtLinc, pwtLincErr, pwtLincSh, pwtLincShErr, pwtNc, pwtNcErr)});
legendEntry('legend-sham', 'Sham', 1829, 1857, 1880, 1872.6, colorSham, 'triDown', 6, 20.6, 'normal');
legendEntry('legend-sni-lv-nc', 'SNI-Lv-NC', 1829, 1857, 1913, 1872.6, colorNc, 'circle', 5.5, 20.6, 'normal');
legendEntry('legend-sni-lv-linc01119-sh-elavl1', 'SNI-Lv-LINC01119+sh-ELAVL1', 1829, 1857, 1947.7, 1872.6, colorLincSh, 'triUp', 5.5, 20.6, 'normal');
legendEntry('legend-sham-lv-linc01119', 'Sham-Lv-LINC01119', 1993, 2021.4, 1877.7, 2037.4, colorShamLinc, 'diamond', 5, 21, 'normal');
legendEntry('legend-sni-lv-linc01119', 'SNI-Lv-LINC01119', 1993, 2021.4, 1911, 2037.4, colorLinc, 'square', 5.5, 21, 'normal');
sideBracket('significance-bracket', 2219.3, 2233, 2190.7, 2231);
stars('significance-star', '*', 2245.8, 2210, 19);
ylabel('y-axis-title', {text: 'PWT (g)', x: 1791, y: 2127.7, size: 22.3, len: 84});
label('x-axis-title', 'Time (days)', 2045, 2324, 22, {len: 120});
</script>
</body>
</html>
